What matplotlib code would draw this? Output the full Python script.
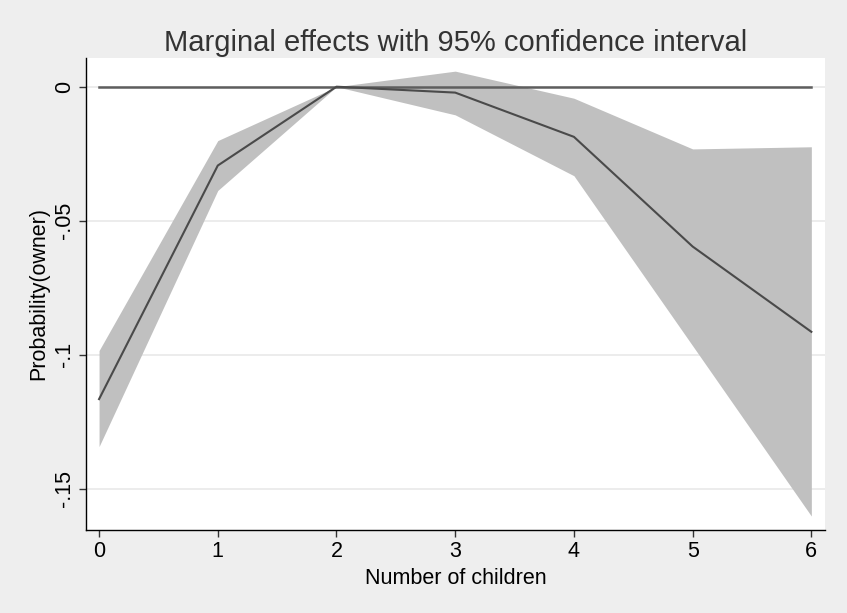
import matplotlib.pyplot as plt
import numpy as np

# --- data ---
children = [0, 1, 2, 3, 4, 5, 6]
effect = [-0.1165, -0.0294, 0.0, -0.0022, -0.0187, -0.0596, -0.0914]
upper = [-0.0984, -0.0201, 0.0, 0.0058, -0.0043, -0.0232, -0.0224]
lower = [-0.1342, -0.0387, 0.0, -0.0105, -0.0332, -0.0966, -0.1601]
zero_line = [0, 0, 0, 0, 0, 0, 0]

y_ticks = [0, -0.05, -0.1, -0.15]
y_ticklabels = ['0', '-.05', '-.1', '-.15']

plt.rcParams['font.family'] = ['Liberation Sans', 'DejaVu Sans']

fig = plt.figure(figsize=(8.47, 6.13), dpi=100, facecolor='#eeeeee')
ax = fig.add_axes([86/847, 83/613, (825-86)/847, (530-58)/613])
ax.set_facecolor('white')

# gridlines
for t in y_ticks:
    ax.axhline(t, color='#eaeaea', lw=1.3, zorder=0)

# confidence band + lines
ax.fill_between(children, lower, upper, color='#c0c0c0', lw=0, zorder=1)
ax.plot(children, zero_line, color='#5e5e5e', lw=1.8, zorder=2)
ax.plot(children, effect, color='#4a4a4a', lw=1.5, zorder=3)

ax.set_xlim(-0.11, 6.115)
ax.set_ylim(-0.1653, 0.0107)
ax.set_xticks(children)
ax.set_yticks(y_ticks)
ax.set_yticklabels(y_ticklabels, rotation=90, va='center')
ax.tick_params(labelsize=15.5, length=5, width=1, color='#333333', pad=3)

for side in ['top', 'right']:
    ax.spines[side].set_visible(False)
for side in ['left', 'bottom']:
    ax.spines[side].set_color('black')
    ax.spines[side].set_linewidth(1)

ax.set_xlabel('Number of children', fontsize=15.5, labelpad=4)
ax.set_ylabel('Probability(owner)', fontsize=15.5, labelpad=3)
ax.set_title('Marginal effects with 95% confidence interval', fontsize=21,
             color='#333333', pad=5)

plt.savefig('out.png', dpi=100, facecolor=fig.get_facecolor())
